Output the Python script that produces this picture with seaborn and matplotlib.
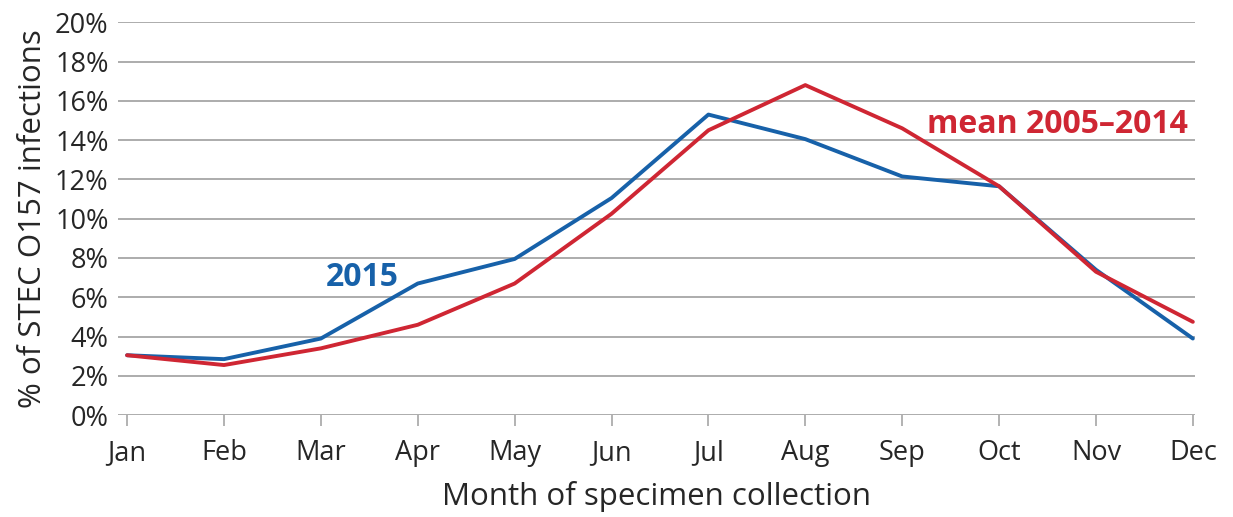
import pandas as pd
import matplotlib.pyplot as plt
import seaborn as sns
from matplotlib.ticker import PercentFormatter

months = ['Jan', 'Feb', 'Mar', 'Apr', 'May', 'Jun', 'Jul', 'Aug', 'Sep', 'Oct', 'Nov', 'Dec']
pct_2015 = [3.05, 2.85, 3.9, 6.7, 7.95, 11.05, 15.3, 14.05, 12.15, 11.65, 7.4, 3.9]
pct_mean = [3.05, 2.55, 3.4, 4.6, 6.7, 10.25, 14.5, 16.8, 14.6, 11.65, 7.3, 4.75]

df = pd.DataFrame({'month': months * 2,
                   'pct': pct_2015 + pct_mean,
                   'series': ['2015'] * 12 + ['mean 2005–2014'] * 12})
df['pos'] = df.groupby('series').cumcount()

blue = '#1761a9'
red = '#cf2633'

sns.set_style('white')
plt.rcParams['font.family'] = ['Open Sans', 'DejaVu Sans']

fig = plt.figure(figsize=(12.33, 5.17), dpi=100)
ax = fig.add_axes([0.096, 0.197, 0.873, 0.76])

sns.lineplot(data=df, x='pos', y='pct', hue='series', palette=[blue, red],
             linewidth=2.8, legend=False, ax=ax, sort=False)

ax.set_ylim(0, 20)
ax.set_xlim(-0.09, 11.02)
ax.set_yticks(range(0, 21, 2))
ax.yaxis.set_major_formatter(PercentFormatter(decimals=0))
ax.set_xticks(range(12))
ax.set_xticklabels(months)
ax.yaxis.grid(True, color='#a6a6a6', linewidth=1.3)
ax.set_axisbelow(True)
for s in ax.spines.values():
    s.set_visible(False)
ax.tick_params(axis='x', length=8, width=1.2, color='#a6a6a6', labelsize=19.5, pad=9, direction='out', bottom=True)
ax.tick_params(axis='y', length=0, labelsize=19.5, pad=7)

ax.set_xlabel('Month of specimen collection', fontsize=22.5, labelpad=10)
ax.set_ylabel('% of STEC O157 infections', fontsize=22.5, labelpad=5)

ax.text(2.43, 7.0, '2015', color=blue, fontsize=23, fontweight='bold', ha='center', va='center')
ax.text(9.6, 14.8, 'mean 2005–2014', color=red, fontsize=23, fontweight='bold', ha='center', va='center')

plt.savefig('out.png', dpi=100)
